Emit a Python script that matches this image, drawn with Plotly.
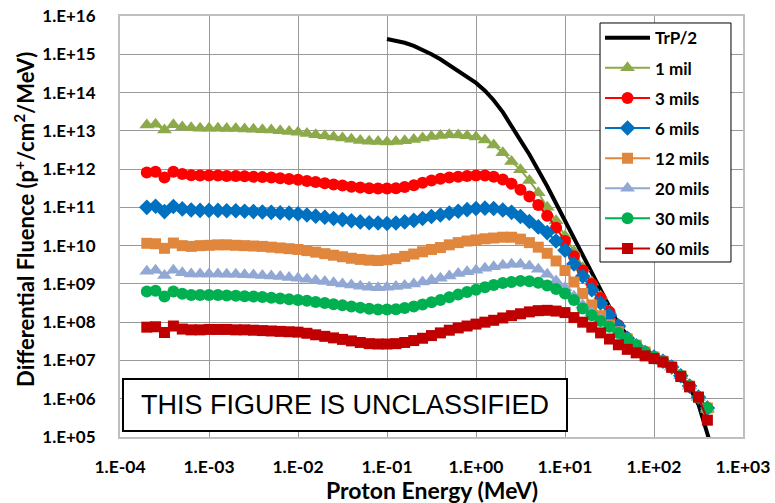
import plotly.graph_objects as go

# Proton energy grid (MeV) for the shielded spectra
energy = [2.0e-4, 2.51e-4, 3.16e-4, 3.98e-4, 5.01e-4, 6.31e-4, 7.94e-4,
          1.0e-3, 1.26e-3, 1.58e-3, 2.0e-3, 2.51e-3, 3.16e-3, 3.98e-3, 5.01e-3, 6.31e-3, 7.94e-3,
          1.0e-2, 1.26e-2, 1.58e-2, 2.0e-2, 2.51e-2, 3.16e-2, 3.98e-2, 5.01e-2, 6.31e-2, 7.94e-2,
          0.1, 0.126, 0.158, 0.2, 0.251, 0.316, 0.398, 0.501, 0.631, 0.794,
          1.0, 1.26, 1.58, 2.0, 2.51, 3.16, 3.98, 5.01, 6.31, 7.94,
          10, 12.6, 15.8, 20, 25.1, 31.6, 39.8, 50.1, 63.1, 79.4,
          100, 126, 158, 200, 251, 316, 398]

# Unshielded trapped proton spectrum / 2
trp_energy = [0.1, 0.126, 0.158, 0.2, 0.251, 0.316, 0.398, 0.501, 0.631, 0.794,
              1.0, 1.26, 1.58, 2.0, 2.51, 3.16, 3.98, 5.01, 6.31, 7.94,
              10, 15.8, 25.1, 39.8, 63.1, 100, 158, 251, 316, 398, 447]
trp_half = [2.51e15, 2.29e15, 2.0e15, 1.66e15, 1.32e15, 1.0e15, 7.41e14, 5.13e14, 3.55e14, 2.51e14,
            1.78e14, 1.12e14, 6.31e13, 3.09e13, 1.26e13, 5.62e12, 2.40e12, 9.55e11, 3.55e11, 1.26e11,
            4.47e10, 5.62e9, 7.08e8, 8.91e7, 2.24e7, 1.12e7, 6.31e6, 2.0e6, 7.08e5, 1.26e5, 5.01e4]

mil_1 = [1.41e13, 1.48e13, 1.05e13, 1.45e13, 1.26e13, 1.20e13, 1.17e13,
         1.17e13, 1.17e13, 1.15e13, 1.15e13, 1.12e13, 1.10e13, 1.07e13, 1.05e13, 1.00e13, 9.55e12,
         9.12e12, 8.51e12, 7.94e12, 7.41e12, 6.92e12, 6.46e12, 6.03e12, 5.62e12, 5.37e12, 5.25e12,
         5.13e12, 5.25e12, 5.50e12, 5.89e12, 6.46e12, 7.08e12, 7.59e12, 7.94e12, 7.76e12, 7.41e12,
         6.92e12, 5.75e12, 4.27e12, 2.69e12, 1.58e12, 9.55e11, 5.01e11, 2.40e11, 1.00e11, 4.47e10,
         1.78e10, 7.08e9, 2.63e9, 1.12e9, 4.79e8, 2.00e8, 8.51e7, 3.98e7, 2.40e7, 1.66e7,
         1.26e7, 9.55e6, 6.76e6, 3.98e6, 2.14e6, 1.10e6, 5.25e5]

mils_3 = [8.13e11, 8.51e11, 6.03e11, 8.51e11, 7.41e11, 6.92e11, 6.76e11,
          6.76e11, 6.76e11, 6.61e11, 6.61e11, 6.46e11, 6.31e11, 6.17e11, 6.03e11, 5.75e11, 5.50e11,
          5.25e11, 4.90e11, 4.57e11, 4.27e11, 3.98e11, 3.72e11, 3.47e11, 3.31e11, 3.16e11, 3.09e11,
          3.09e11, 3.16e11, 3.39e11, 3.80e11, 4.37e11, 5.01e11, 5.62e11, 6.03e11, 6.31e11, 6.61e11,
          6.76e11, 6.76e11, 6.31e11, 5.37e11, 4.17e11, 2.88e11, 1.91e11, 1.15e11, 6.03e10, 2.95e10,
          1.32e10, 5.25e9, 2.24e9, 1.00e9, 4.27e8, 1.86e8, 8.32e7, 3.89e7, 2.40e7, 1.66e7,
          1.23e7, 9.55e6, 6.76e6, 3.98e6, 2.14e6, 1.10e6, 5.75e5]

mils_6 = [1.00e11, 1.07e11, 7.76e10, 1.05e11, 9.12e10, 8.51e10, 8.32e10,
          8.32e10, 8.32e10, 8.13e10, 8.13e10, 7.94e10, 7.76e10, 7.59e10, 7.41e10, 7.24e10, 7.08e10,
          6.76e10, 6.31e10, 5.89e10, 5.50e10, 5.13e10, 4.79e10, 4.47e10, 4.17e10, 3.98e10, 3.89e10,
          3.80e10, 3.89e10, 4.17e10, 4.57e10, 5.13e10, 5.75e10, 6.31e10, 7.08e10, 7.94e10, 8.71e10,
          9.33e10, 9.55e10, 9.33e10, 8.51e10, 7.41e10, 5.75e10, 4.27e10, 3.09e10, 2.19e10, 1.32e10,
          7.59e9, 3.31e9, 1.58e9, 7.08e8, 3.16e8, 1.51e8, 7.94e7, 3.80e7, 2.40e7, 1.62e7,
          1.23e7, 9.55e6, 6.76e6, 3.98e6, 2.14e6, 1.10e6, 5.75e5]

mils_12 = [1.15e10, 1.12e10, 8.51e9, 1.17e10, 1.00e10, 9.55e9, 1.00e10,
           1.02e10, 1.05e10, 1.05e10, 1.02e10, 1.00e10, 9.77e9, 9.55e9, 9.12e9, 8.71e9, 8.32e9,
           7.94e9, 7.41e9, 6.76e9, 6.17e9, 5.62e9, 5.13e9, 4.68e9, 4.37e9, 4.17e9, 4.07e9,
           4.27e9, 4.57e9, 5.25e9, 6.03e9, 6.92e9, 7.94e9, 8.91e9, 1.05e10, 1.20e10, 1.32e10,
           1.41e10, 1.51e10, 1.58e10, 1.66e10, 1.66e10, 1.48e10, 1.20e10, 9.12e9, 6.31e9, 3.98e9,
           2.24e9, 1.12e9, 5.62e8, 2.82e8, 1.48e8, 8.51e7, 5.62e7, 3.63e7, 2.51e7, 1.66e7,
           1.23e7, 9.55e6, 6.76e6, 3.98e6, 2.14e6, 1.10e6, 5.75e5]

mils_20 = [2.14e9, 2.29e9, 1.66e9, 2.29e9, 1.95e9, 1.82e9, 1.82e9,
           1.82e9, 1.82e9, 1.78e9, 1.78e9, 1.74e9, 1.70e9, 1.66e9, 1.62e9, 1.55e9, 1.48e9,
           1.41e9, 1.32e9, 1.23e9, 1.15e9, 1.07e9, 1.00e9, 9.33e8, 8.71e8, 8.13e8, 7.94e8,
           8.13e8, 8.51e8, 9.12e8, 1.00e9, 1.12e9, 1.26e9, 1.41e9, 1.62e9, 1.86e9, 2.09e9,
           2.29e9, 2.57e9, 2.82e9, 3.09e9, 3.24e9, 3.24e9, 2.95e9, 2.40e9, 1.78e9, 1.20e9,
           7.94e8, 4.79e8, 2.82e8, 1.78e8, 1.17e8, 7.94e7, 5.37e7, 3.63e7, 2.51e7, 1.66e7,
           1.23e7, 9.55e6, 6.76e6, 3.98e6, 2.14e6, 1.10e6, 5.75e5]

mils_30 = [6.31e8, 6.61e8, 4.68e8, 6.31e8, 5.50e8, 5.13e8, 5.13e8,
           5.13e8, 5.13e8, 5.01e8, 4.90e8, 4.79e8, 4.68e8, 4.57e8, 4.37e8, 4.17e8, 3.98e8,
           3.80e8, 3.63e8, 3.39e8, 3.16e8, 2.95e8, 2.75e8, 2.57e8, 2.40e8, 2.24e8, 2.14e8,
           2.14e8, 2.19e8, 2.34e8, 2.57e8, 2.88e8, 3.31e8, 3.80e8, 4.47e8, 5.25e8, 6.17e8,
           7.08e8, 8.13e8, 9.33e8, 1.05e9, 1.12e9, 1.20e9, 1.17e9, 1.07e9, 9.12e8, 7.41e8,
           5.62e8, 3.80e8, 2.29e8, 1.51e8, 1.07e8, 7.59e7, 5.25e7, 3.63e7, 2.51e7, 1.66e7,
           1.23e7, 9.55e6, 6.76e6, 3.98e6, 2.14e6, 1.10e6, 5.75e5]

mils_60 = [7.41e7, 7.59e7, 5.37e7, 7.94e7, 6.61e7, 6.31e7, 6.31e7,
           6.46e7, 6.46e7, 6.46e7, 6.31e7, 6.31e7, 6.17e7, 6.03e7, 5.89e7, 5.75e7, 5.62e7,
           5.50e7, 5.13e7, 4.68e7, 4.27e7, 3.89e7, 3.55e7, 3.24e7, 2.95e7, 2.75e7, 2.69e7,
           2.69e7, 2.75e7, 2.95e7, 3.31e7, 3.80e7, 4.47e7, 5.25e7, 6.17e7, 7.08e7, 7.94e7,
           8.91e7, 1.00e8, 1.12e8, 1.29e8, 1.48e8, 1.66e8, 1.86e8, 2.00e8, 2.04e8, 1.95e8,
           1.78e8, 1.32e8, 1.00e8, 7.41e7, 5.25e7, 3.63e7, 2.57e7, 1.95e7, 1.58e7, 1.32e7,
           1.12e7, 9.12e6, 6.61e6, 3.80e6, 2.04e6, 1.10e6, 2.75e5]

series_names = ["1 mil", "3 mils", "6 mils", "12 mils", "20 mils", "30 mils", "60 mils"]
series_values = [mil_1, mils_3, mils_6, mils_12, mils_20, mils_30, mils_60]
series_colors = ["#8DAA4B", "#FF0000", "#0070C0", "#E0873D", "#91A8D4", "#00B050", "#C00000"]
series_symbols = ["triangle-up", "circle", "diamond", "square", "triangle-up", "circle", "square"]
series_sizes = [13, 12, 12, 11, 13, 12, 11]

x_tickvals = [1e-4, 1e-3, 1e-2, 1e-1, 1e0, 1e1, 1e2, 1e3]
x_ticktext = ["1.E-04", "1.E-03", "1.E-02", "1.E-01", "1.E+00", "1.E+01", "1.E+02", "1.E+03"]
y_tickvals = [10.0 ** p for p in range(5, 17)]
y_ticktext = ["1.E+%02d" % p for p in range(5, 17)]

FONT = "Lato"

fig = go.Figure()
fig.add_trace(go.Scatter(x=trp_energy, y=trp_half, name="TrP/2", mode="lines",
                         line=dict(color="black", width=4), legendgroup="g0"))
for i, (nm, vals, col, sym, sz) in enumerate(zip(series_names, series_values, series_colors,
                                                  series_symbols, series_sizes)):
    fig.add_trace(go.Scatter(x=energy, y=vals, name=nm, mode="lines+markers",
                             line=dict(color=col, width=2),
                             marker=dict(color=col, symbol=sym, size=sz, line=dict(width=0)),
                             legendgroup="g%d" % (i + 1)))

fig.update_layout(
    width=775, height=503,
    margin=dict(l=120, r=32, t=16, b=66, autoexpand=False),
    paper_bgcolor="white", plot_bgcolor="white",
    font=dict(family=FONT, color="black"),
    showlegend=True,
    legend=dict(x=0.7705, y=0.99, xanchor="left", yanchor="top",
                bgcolor="rgba(0,0,0,0)", borderwidth=0,
                font=dict(family=FONT, size=17, color="black", weight="bold"),
                tracegroupgap=5, itemwidth=45, traceorder="grouped"),
    xaxis=dict(type="log", range=[-4, 3], tickvals=x_tickvals, ticktext=x_ticktext,
               showgrid=True, gridcolor="#999999", gridwidth=1,
               showline=True, linecolor="#BFBFBF", linewidth=2, mirror=True,
               ticks="", ticklabelstandoff=13, automargin=False, ticklabeloverflow="allow",
               tickfont=dict(family=FONT, size=17.5, color="black", weight="bold"),
               zeroline=False),
    yaxis=dict(type="log", range=[5, 16], tickvals=y_tickvals, ticktext=y_ticktext,
               showgrid=True, gridcolor="#999999", gridwidth=1,
               showline=True, linecolor="#BFBFBF", linewidth=2, mirror=True,
               ticks="", ticklabelstandoff=19, automargin=False, ticklabeloverflow="allow",
               tickfont=dict(family=FONT, size=17, color="black", weight="bold"),
               zeroline=False),
)

# Axis titles
fig.add_annotation(xref="paper", yref="paper", x=0.5008, y=-0.1255,
                   xanchor="center", yanchor="middle", showarrow=False,
                   text="Proton Energy (MeV)",
                   font=dict(family=FONT, size=23, color="black", weight="bold"))
fig.add_annotation(xref="paper", yref="paper", x=-0.1525, y=0.518,
                   xanchor="center", yanchor="middle", showarrow=False, textangle=-90,
                   text="Differential Fluence (p<sup>+</sup>/cm<sup>2</sup>/MeV)",
                   font=dict(family=FONT, size=22, color="black", weight="bold"))

# Legend frame
fig.add_shape(type="rect", xref="paper", yref="paper",
              x0=0.7705, x1=0.9807, y0=0.4157, y1=0.9834,
              line=dict(color="black", width=1), fillcolor="white", layer="above")

# Classification banner
fig.add_shape(type="rect", xref="paper", yref="paper",
              x0=0.0048, x1=0.7175, y0=0.0143, y1=0.1378,
              line=dict(color="black", width=2), fillcolor="white", layer="above")
fig.add_annotation(xref="paper", yref="paper", x=0.361, y=0.076,
                   xanchor="center", yanchor="middle",
                   text="THIS FIGURE IS UNCLASSIFIED", showarrow=False,
                   font=dict(family="Liberation Sans", size=27, color="black"))

# Remove the default page margin so the 775x503 figure fills the window exactly.
fig.write_html("out.html", config={"displayModeBar": False},
               post_script="document.body.style.margin='0px';")
